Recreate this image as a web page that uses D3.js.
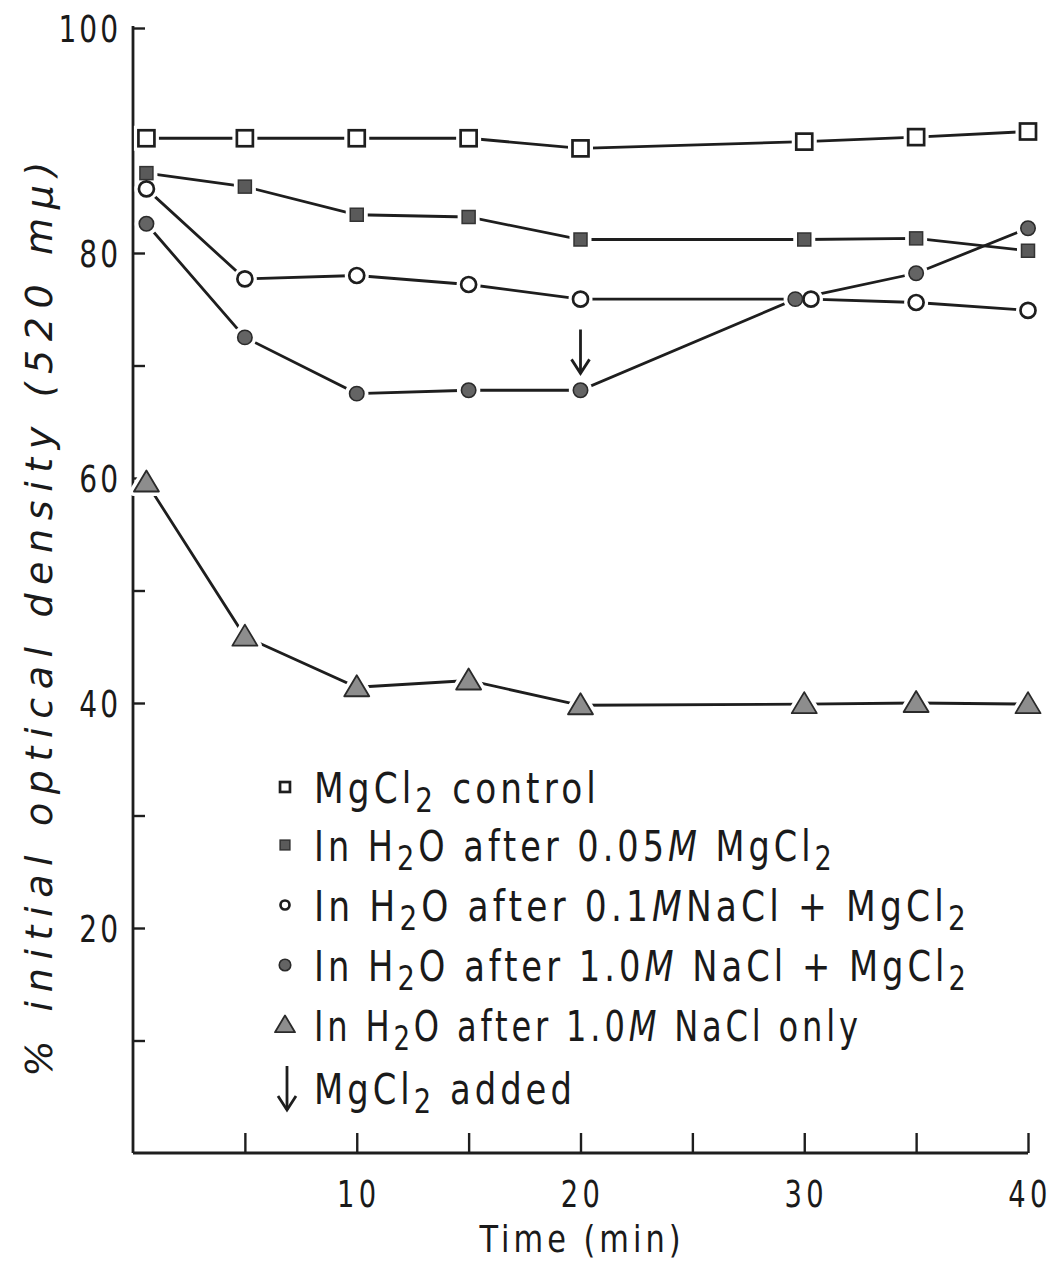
<!DOCTYPE html>
<html><head><meta charset="utf-8">
<script src="https://cdn.jsdelivr.net/npm/d3@7/dist/d3.min.js"></script>
<style>
body{margin:0;background:#fff;}
svg{display:block;}
text{font-family:"DejaVu Sans",sans-serif;fill:#1a1a1a;}
</style></head>
<body>
<script>
// ---- data ----
const times = [0.6, 5, 10, 15, 20, 30, 35, 40];
const timesOpenCircle = [0.6, 5, 10, 15, 20, 30.3, 35, 40];
const timesFilledCircle = [0.6, 5, 10, 15, 20, 29.6, 35, 40];
const mgControl = [90.2, 90.2, 90.2, 90.2, 89.3, 89.9, 90.3, 90.8];
const h2oAfterMg = [87.1, 85.9, 83.4, 83.2, 81.2, 81.2, 81.3, 80.2];
const h2oAfter01NaClMg = [85.7, 77.7, 78.0, 77.2, 75.9, 75.9, 75.6, 74.9];
const h2oAfter1NaClMg = [82.6, 72.5, 67.5, 67.8, 67.8, 75.9, 78.2, 82.2];
const h2oAfter1NaClOnly = [59.6, 45.9, 41.4, 42.0, 39.8, 39.9, 40.0, 39.9];
const xTicks = [5, 10, 15, 20, 25, 30, 35, 40];
const xTickLabels = ["", "10", "", "20", "", "30", "", "40"];
const yTicks = [10, 20, 30, 40, 50, 60, 70, 80, 90, 100];
const yTickLabels = ["", "20", "", "40", "", "60", "", "80", "", "100"];
const arrowTime = 20, arrowTop = 73.2, arrowTip = 69.3;

const W = 1057, H = 1264;
const svg = d3.select("body").append("svg").attr("width", W).attr("height", H);
const x = d3.scaleLinear().domain([0, 40]).range([133, 1028]);
const y = d3.scaleLinear().domain([0, 100]).range([1153, 28]);
const ink = "#1e1e1e";

// helper: text in a horizontally condensed group
function ctext(parent, tx, ty, sx, anchor, size, spacing, str) {
  const g = parent.append("g").attr("transform", `translate(${tx},${ty}) scale(${sx},1)`);
  return g.append("text").attr("x", 0).attr("y", 0).attr("text-anchor", anchor)
    .attr("font-size", size).attr("letter-spacing", spacing).text(str);
}

// axes
svg.append("line").attr("x1", x(0)).attr("x2", x(0)).attr("y1", y(100) - 2).attr("y2", y(0)).attr("stroke", ink).attr("stroke-width", 2.8);
svg.append("line").attr("x1", x(0)).attr("x2", x(40)).attr("y1", y(0)).attr("y2", y(0)).attr("stroke", ink).attr("stroke-width", 2.8);
const ya = svg.append("g").attr("transform", `translate(${x(0)},0)`)
  .call(d3.axisRight(y).tickValues(yTicks).tickSize(12).tickFormat(""));
ya.select(".domain").remove();
ya.selectAll("line").attr("stroke", ink).attr("stroke-width", 2.4);
const xa = svg.append("g").attr("transform", `translate(0,${y(0)})`)
  .call(d3.axisTop(x).tickValues(xTicks).tickSize(20).tickFormat(""));
xa.select(".domain").remove();
xa.selectAll("line").attr("stroke", ink).attr("stroke-width", 2.4);

// tick labels
const ylab = svg.append("g");
yTicks.forEach((d, i) => { if (yTickLabels[i]) ctext(ylab, 121, y(d) + 14, 0.74, "end", 38, 4, yTickLabels[i]); });
const xlab = svg.append("g");
xTicks.forEach((d, i) => { if (xTickLabels[i]) ctext(xlab, x(d) + 2, 1207, 0.72, "middle", 38, 6, xTickLabels[i]); });
ctext(svg, 582, 1252, 0.8, "middle", 38, 5, "Time (min)");
svg.append("text").attr("transform", "translate(52,615) rotate(-90)")
  .attr("text-anchor", "middle").attr("font-size", 38).attr("font-style", "italic")
  .attr("letter-spacing", 8.6)
  .text("% initial optical density (520 mμ)");

// series
const series = [
  {t: times, v: mgControl, m: "openSquare"},
  {t: times, v: h2oAfterMg, m: "filledSquare"},
  {t: timesOpenCircle, v: h2oAfter01NaClMg, m: "openCircle"},
  {t: timesFilledCircle, v: h2oAfter1NaClMg, m: "filledCircle"},
  {t: times, v: h2oAfter1NaClOnly, m: "triangle"}
];
const line = d3.line().x(d => x(d[0])).y(d => y(d[1]));
function drawMarker(sel, type, cx, cy, s, halo) {
  const sw = 9;
  if (type === "openSquare") {
    sel.append("rect").attr("x", cx - 8 * s).attr("y", cy - 8 * s).attr("width", 16 * s).attr("height", 16 * s)
      .attr("fill", "#fff").attr("stroke", halo ? "#fff" : ink).attr("stroke-width", halo ? sw : 2.7);
  } else if (type === "filledSquare") {
    sel.append("rect").attr("x", cx - 6.5 * s).attr("y", cy - 6.5 * s).attr("width", 13 * s).attr("height", 13 * s)
      .attr("fill", halo ? "#fff" : "#5a5a5a").attr("stroke", halo ? "#fff" : "#333").attr("stroke-width", halo ? sw : 1.5);
  } else if (type === "openCircle") {
    sel.append("circle").attr("cx", cx).attr("cy", cy).attr("r", 7.5 * s)
      .attr("fill", "#fff").attr("stroke", halo ? "#fff" : ink).attr("stroke-width", halo ? sw : 2.7);
  } else if (type === "filledCircle") {
    sel.append("circle").attr("cx", cx).attr("cy", cy).attr("r", 7.2 * s)
      .attr("fill", halo ? "#fff" : "#646464").attr("stroke", halo ? "#fff" : "#2a2a2a").attr("stroke-width", halo ? sw : 1.6);
  } else if (type === "triangle") {
    const p = [[cx, cy - 12 * s], [cx + 12.5 * s, cy + 9 * s], [cx - 12.5 * s, cy + 9 * s]];
    sel.append("path").attr("d", "M" + p.join("L") + "Z")
      .attr("fill", halo ? "#fff" : "#8d8d8d").attr("stroke", halo ? "#fff" : "#2a2a2a")
      .attr("stroke-width", halo ? sw : 1.8).attr("stroke-linejoin", "round");
  }
}
const plot = svg.append("g");
series.forEach(s => {
  const pts = s.t.map((t, i) => [t, s.v[i]]);
  plot.append("path").attr("d", line(pts)).attr("fill", "none").attr("stroke", ink).attr("stroke-width", 2.8);
});
series.forEach(s => s.t.forEach((t, i) => drawMarker(plot, s.m, x(t), y(s.v[i]), 1, true)));
series.forEach(s => s.t.forEach((t, i) => drawMarker(plot, s.m, x(t), y(s.v[i]), 1, false)));

// arrow annotation
function arrow(sel, ax, y1, y2) {
  sel.append("line").attr("x1", ax).attr("x2", ax).attr("y1", y1).attr("y2", y2).attr("stroke", ink).attr("stroke-width", 2.8);
  sel.append("path").attr("d", `M${ax - 9},${y2 - 14}L${ax},${y2}L${ax + 9},${y2 - 14}`)
    .attr("fill", "none").attr("stroke", ink).attr("stroke-width", 2.8);
}
arrow(svg, x(arrowTime), y(arrowTop), y(arrowTip));

// legend
const legendRows = [
  {m: "openSquare", parts: [["MgCl"], ["2", "sub"], [" control"]]},
  {m: "filledSquare", parts: [["In H"], ["2", "sub"], ["O after 0.05"], ["M", "it"], [" MgCl"], ["2", "sub"]]},
  {m: "openCircle", parts: [["In H"], ["2", "sub"], ["O after 0.1"], ["M", "it"], ["NaCl + MgCl"], ["2", "sub"]]},
  {m: "filledCircle", parts: [["In H"], ["2", "sub"], ["O after 1.0"], ["M", "it"], [" NaCl + MgCl"], ["2", "sub"]]},
  {m: "triangle", parts: [["In H"], ["2", "sub"], ["O after 1.0"], ["M", "it"], [" NaCl only"]]},
  {m: "arrow", parts: [["MgCl"], ["2", "sub"], [" added"]]}
];
const legendBaselines = [803, 861, 921, 981, 1041, 1104];
const legendWidths = [286, 522, 656, 656, 548, 262];
const lg = svg.append("g");
legendRows.forEach((r, i) => {
  const by = legendBaselines[i];
  const cy = by - 16;
  if (r.m === "arrow") arrow(lg, 287, cy - 22, cy + 22);
  else {
    const sc = {openSquare: 0.62, filledSquare: 0.75, openCircle: 0.6, filledCircle: 0.8, triangle: 0.8}[r.m];
    drawMarker(lg, r.m, 285, cy, sc, false);
  }
  const g = lg.append("g");
  const t = g.append("text").attr("x", 0).attr("y", 0).attr("font-size", 42).attr("letter-spacing", 5);
  let shift = 0;
  r.parts.forEach(p => {
    const ts = t.append("tspan").text(p[0]);
    if (p[1] === "sub") { ts.attr("dy", 9 - shift).attr("font-size", 34); shift = 9; }
    else if (shift) { ts.attr("dy", -shift); shift = 0; }
    if (p[1] === "it") ts.attr("font-style", "italic");
  });
  const w = t.node().getBBox().width;
  g.attr("transform", `translate(314,${by}) scale(${legendWidths[i] / w},1)`);
});
</script>
</body></html>
